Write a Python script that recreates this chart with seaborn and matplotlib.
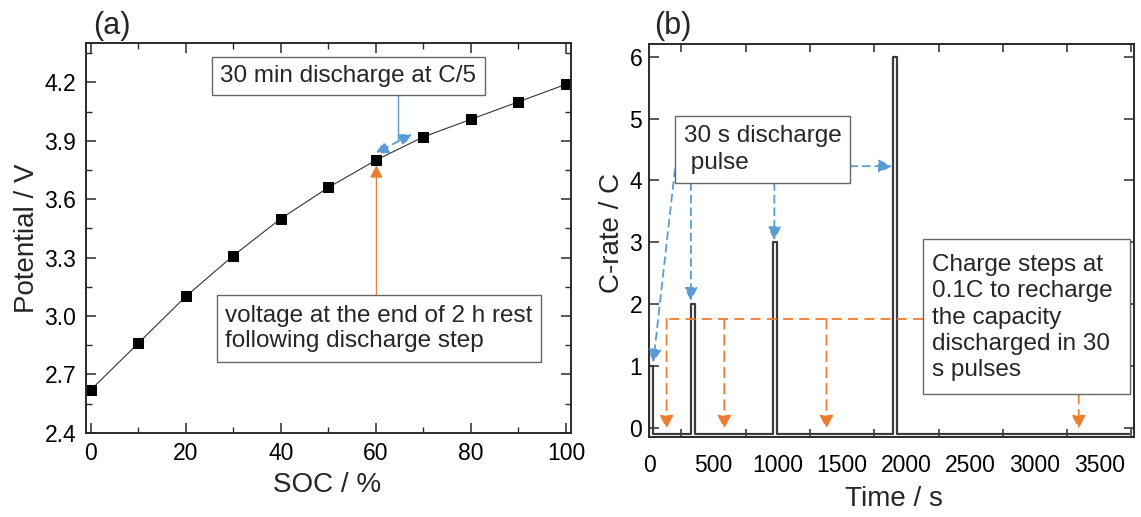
import numpy as np
import pandas as pd
import seaborn as sns
import matplotlib.pyplot as plt
from matplotlib.patches import Rectangle
from matplotlib.ticker import MultipleLocator, FixedLocator

# (a) open-circuit potential vs state of charge
soc = [0, 10, 20, 30, 40, 50, 60, 70, 80, 90, 100]
potential = [2.62, 2.86, 3.10, 3.31, 3.50, 3.66, 3.80, 3.92, 4.01, 4.10, 4.19]

# (b) pulse protocol: C-rate vs time
time_s = [0, 0, 30, 30, 325, 325, 355, 355, 965, 965, 995, 995,
          1895, 1895, 1925, 1925, 3730]
c_rate = [-0.1, 1, 1, -0.1, -0.1, 2, 2, -0.1, -0.1, 3, 3, -0.1,
          -0.1, 6, 6, -0.1, -0.1]

sns.set_theme(style="ticks")
plt.rcParams["font.family"] = ["Liberation Sans", "DejaVu Sans"]
plt.rcParams["axes.edgecolor"] = "#2a2a2a"
plt.rcParams["axes.linewidth"] = 1.4

blue = "#5B9BD5"
orange = "#ED7D31"
dash_b = (0, (4, 3))
dash_o = (0, (5.5, 3.5))
note_fs = 17.5

fig = plt.figure(figsize=(11.41, 5.17), dpi=100)
ax1 = fig.add_axes([0.0754, 0.163, 0.4248, 0.753])
ax2 = fig.add_axes([0.569, 0.155, 0.4249, 0.759])

# ---- panel (a)
df_a = pd.DataFrame({"soc": soc, "V": potential})
sns.lineplot(data=df_a, x="soc", y="V", ax=ax1, color="#333333", lw=0.8,
             marker="s", markersize=6.5, markerfacecolor="black",
             markeredgecolor="black")
ax1.set_xlim(-1, 101)
ax1.set_ylim(2.4, 4.4)
ax1.xaxis.set_major_locator(MultipleLocator(20))
ax1.xaxis.set_minor_locator(MultipleLocator(10))
ax1.yaxis.set_major_locator(FixedLocator([2.4, 2.7, 3.0, 3.3, 3.6, 3.9, 4.2]))
ax1.yaxis.set_minor_locator(MultipleLocator(0.15))
ax1.set_yticklabels(["2.4", "2.7", "3.0", "3.3", "3.6", "3.9", "4.2"])
ax1.tick_params(which="both", direction="in", top=True, right=True,
                labelsize=16.5, colors="#2a2a2a", labelcolor="black")
ax1.tick_params(which="major", length=7, width=1.1, pad=7)
ax1.tick_params(which="minor", length=4, width=1.0)
ax1.set_xlabel("SOC / %", fontsize=20)
ax1.set_ylabel("Potential / V", fontsize=20)
ax1.xaxis.set_label_coords(0.497, -0.10)
ax1.yaxis.set_label_coords(-0.095, 0.5)

# annotation boxes (a)
ax1.add_patch(Rectangle((25.5, 4.137), 57.5, 0.191, fc="white",
                        ec="#666666", lw=1.0, zorder=4))
ax1.text(54.2, 4.232, "30 min discharge at C/5", fontsize=note_fs,
         ha="center", va="center", zorder=5)
ax1.plot([64.6, 64.6], [4.137, 3.90], color=blue, lw=1.0, zorder=3)
ax1.annotate("", xy=(59.9, 3.835), xytext=(67.6, 3.935),
             arrowprops=dict(arrowstyle="<|-|>", color=blue, lw=1.3,
                             linestyle=dash_b, shrinkA=0, shrinkB=0,
                             mutation_scale=19), zorder=3)

ax1.add_patch(Rectangle((26.5, 2.764), 68.3, 0.346, fc="white",
                        ec="#666666", lw=1.0, zorder=4))
ax1.text(28.2, 2.937, "voltage at the end of 2 h rest\nfollowing discharge step",
         fontsize=note_fs, ha="left", va="center", linespacing=1.2, zorder=5)
ax1.annotate("", xy=(60.1, 3.775), xytext=(60.1, 3.11),
             arrowprops=dict(arrowstyle="-|>", color=orange, lw=0.9,
                             shrinkA=0, shrinkB=0, mutation_scale=19),
             zorder=3)

# ---- panel (b)
df_b = pd.DataFrame({"t": time_s, "c": c_rate})
sns.lineplot(data=df_b, x="t", y="c", ax=ax2, sort=False, estimator=None,
             color="#3c3c3c", lw=1.6)
ax2.set_xlim(0, 3770)
ax2.set_ylim(-0.15, 6.2)
ax2.xaxis.set_major_locator(MultipleLocator(500))
ax2.xaxis.set_minor_locator(FixedLocator(np.arange(250, 3800, 500)))
ax2.yaxis.set_major_locator(MultipleLocator(1))
ax2.tick_params(which="both", direction="in", top=True, right=True,
                labelsize=16.5, colors="#2a2a2a", labelcolor="black")
ax2.tick_params(axis="x", which="major", length=0, pad=12)
ax2.tick_params(axis="x", which="minor", length=6, width=1.1)
ax2.tick_params(axis="y", which="major", length=7, width=1.1, pad=5)
ax2.set_xlabel("Time / s", fontsize=20)
ax2.set_ylabel("C-rate / C", fontsize=20)
ax2.xaxis.set_label_coords(0.504, -0.125)
ax2.yaxis.set_label_coords(-0.05, 0.52)

# blue: discharge pulses
ax2.add_patch(Rectangle((200, 3.96), 1361, 1.09, fc="white",
                        ec="#666666", lw=1.0, zorder=4))
ax2.text(272, 4.50, "30 s discharge\n pulse", fontsize=note_fs, ha="left",
         va="center", linespacing=1.35, zorder=5)
arrows_b = [((200, 4.18), (31, 1.05)), ((324, 3.96), (324, 2.05)),
            ((973, 3.96), (973, 3.03)), ((1561, 4.23), (1888, 4.23))]
for start, end in arrows_b:
    ax2.annotate("", xy=end, xytext=start,
                 arrowprops=dict(arrowstyle="-|>", color=blue, lw=1.3,
                                 linestyle=dash_b, shrinkA=0, shrinkB=0,
                                 mutation_scale=20), zorder=3)

# orange: charge steps
ax2.add_patch(Rectangle((2131, 0.55), 1607, 2.50, fc="white",
                        ec="#666666", lw=1.0, zorder=4))
ax2.text(2197, 1.78, "Charge steps at\n0.1C to recharge\nthe capacity\n"
         "discharged in 30\ns pulses", fontsize=note_fs, ha="left", va="center",
         linespacing=1.25, zorder=5)
ax2.plot([2131, 135], [1.76, 1.76], color=orange, lw=1.3, linestyle=dash_o,
         zorder=3)
for t0, y0 in [(135, 1.76), (584, 1.76), (1378, 1.76), (3340, 0.55)]:
    ax2.annotate("", xy=(t0, -0.02), xytext=(t0, y0),
                 arrowprops=dict(arrowstyle="-|>", color=orange, lw=1.3,
                                 linestyle=dash_o, shrinkA=0, shrinkB=0,
                                 mutation_scale=20), zorder=3)

fig.text(111.7 / 1141, 1 - 26 / 517, "(a)", fontsize=22, ha="center", va="center")
fig.text(673.3 / 1141, 1 - 26 / 517, "(b)", fontsize=22, ha="center", va="center")

fig.savefig("out.png", dpi=100)
